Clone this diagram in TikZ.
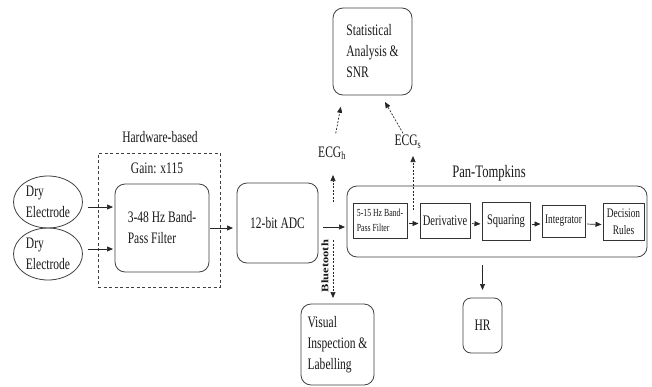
\documentclass[tikz,border=0pt]{standalone}
\usepackage{fontspec}
\setmainfont{Liberation Serif}[FakeStretch=0.72]
\newfontfamily\btfont{Liberation Serif}
\usetikzlibrary{shapes.geometric,arrows.meta}
\begin{document}
\begin{tikzpicture}[x=1pt,y=-1pt,
  every node/.style={inner sep=0pt, outer sep=0pt, text=black!90},
  rbox/.style={draw=black!75, rounded corners=10pt, line width=0.8pt, align=left, font=\fontsize{16}{21}\selectfont},
  sbox/.style={draw=black!80, line width=0.8pt, align=center},
  elbox/.style={draw=black!75, ellipse, line width=0.8pt, align=left, font=\fontsize{16}{21}\selectfont},
  lbl/.style={font=\fontsize{16}{21}\selectfont},
  arr/.style={-{Triangle[length=6pt,width=5pt]}, line width=0.7pt, black!85},
  darr/.style={arr, dash pattern=on 2pt off 1.5pt}
]
\useasboundingbox (0,0) rectangle (652,386);
\fill[white] (0,0) rectangle (652,386);

% hardware block
\node[draw=black!75, line width=0.8pt, dash pattern=on 3pt off 2.5pt, minimum width=122, minimum height=134] (hw) at (159,220) {};
\node[lbl] (hwl) at (160,137) {Hardware-based};
\node[lbl] (gain) at (157,168) {Gain: x115};

% electrodes
\node[elbox, minimum width=69, minimum height=52] (e1) at (48,202) {Dry\\Electrode};
\node[elbox, minimum width=69, minimum height=52] (e2) at (48,254) {Dry\\Electrode};

% main boxes
\node[rbox, minimum width=94, minimum height=88] (filt) at (162,228) {3-48 Hz Band-\\Pass Filter};
\node[rbox, minimum width=81, minimum height=80, align=center] (adc) at (277.5,223) {12-bit ADC};
\node[rbox, minimum width=79, minimum height=87] (stat) at (372.5,51.5) {Statistical\\Analysis \&\\SNR};
\node[rbox, minimum width=73, minimum height=81] (vis) at (337.5,344.5) {Visual\\Inspection \&\\Labelling};
\node[rbox, minimum width=39, minimum height=55, rounded corners=8pt, align=center] (hr) at (482.5,325.5) {HR};

% Pan-Tompkins
\node[rbox, minimum width=300, minimum height=71] (pt) at (497,221.5) {};
\node[lbl, font=\fontsize{17.5}{21}\selectfont] (ptl) at (489,173) {Pan-Tompkins};
\node[sbox, minimum width=54, minimum height=35, align=left, font=\fontsize{10.8}{15}\selectfont] (b1) at (380,220.5) {5-15 Hz Band-\\Pass Filter};
\node[sbox, minimum width=50, minimum height=35, font=\fontsize{14.6}{18}\selectfont] (b2) at (445,220.5) {Derivative};
\node[sbox, minimum width=48, minimum height=38, font=\fontsize{14.6}{18}\selectfont] (b3) at (506,221) {Squaring};
\node[sbox, minimum width=43, minimum height=32, font=\fontsize{13}{17}\selectfont] (b4) at (563.5,221) {Integrator};
\node[sbox, minimum width=41, minimum height=37, font=\fontsize{13}{17}\selectfont] (b5) at (623.5,221.5) {Decision\\Rules};

% labels
\node[lbl] (ecgh) at (332,153) {ECG\textsubscript{h}};
\node[lbl] (ecgs) at (408,142) {ECG\textsubscript{s}};
\node[rotate=90, font=\btfont\bfseries\fontsize{12.5}{14}\selectfont] (bt) at (325,266) {\scalebox{1}[0.8]{Bluetooth}};

% solid connectors
\coordinate (a1) at ([yshift=-5pt]e1.east);
\coordinate (a2) at ([yshift=5pt]e2.east);
\draw[arr, shorten <=5pt, shorten >=2pt] (a1) -- (a1 -| filt.west);
\draw[arr, shorten <=5pt, shorten >=2pt] (a2) -- (a2 -| filt.west);
\draw[arr, shorten <=1pt, shorten >=4pt] (filt.east) -- (filt.east -| adc.west);
\coordinate (c1) at ([yshift=-4pt]adc.east);
\draw[arr, shorten <=5pt, shorten >=2pt] (c1) -- (c1 -| pt.west);
\draw[arr, shorten <=2pt, shorten >=1.5pt] ([yshift=-3pt]b1.east) -- ([yshift=-3pt]b2.west);
\draw[arr, shorten <=2pt, shorten >=1.5pt] ([yshift=-3pt]b2.east) -- ([yshift=-3pt]b3.west);
\draw[arr, shorten <=2pt, shorten >=1.5pt] ([yshift=-3pt]b3.east) -- ([yshift=-3pt]b4.west);
\draw[arr, shorten <=2pt, shorten >=1.5pt] ([yshift=-3pt]b4.east) -- ([yshift=-3pt]b5.west);
\draw[arr, shorten <=8pt, shorten >=8pt] (pt.south -| hr.north) -- (hr.north);

% dashed connectors
\coordinate (bt0) at (333,240);
\draw[darr, shorten >=6pt] (bt0) -- (bt0 |- vis.north);
\coordinate (h0) at (333,202);
\coordinate (h1) at (333,175);
\draw[darr] (h0) -- (h1);
\draw[darr, shorten <=20pt, shorten >=12pt] (ecgh.center) -- ([xshift=-29.5pt]stat.south);
\coordinate (s0) at (413,210);
\coordinate (s1) at (413,156);
\draw[darr] (s0) -- (s1);
\draw[darr, shorten <=10pt, shorten >=8pt] (ecgs.center) -- ([xshift=8.5pt]stat.south);
\end{tikzpicture}
\end{document}
